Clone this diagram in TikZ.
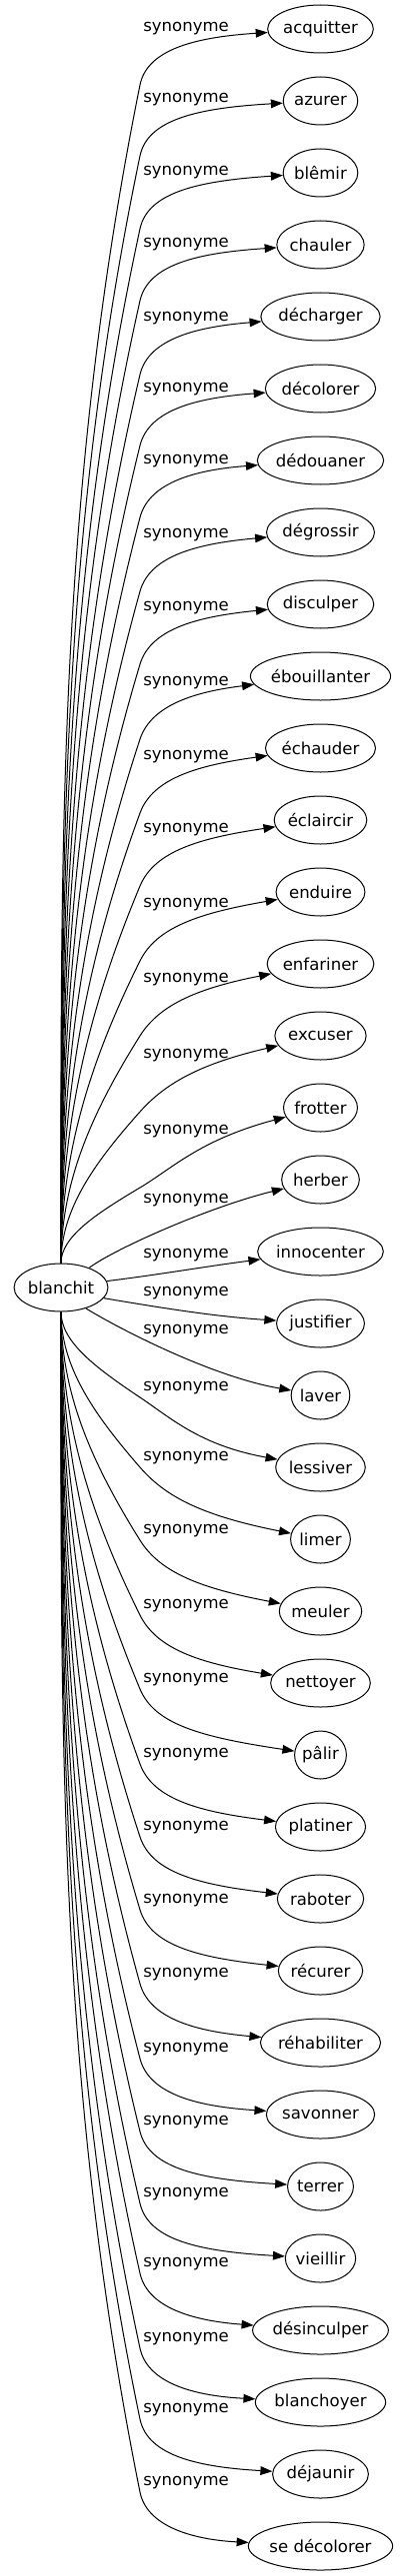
\documentclass[tikz,border=0pt]{standalone}
\usepackage{fontspec}
\setmainfont{DejaVu Sans}
\usetikzlibrary{arrows.meta,shapes.geometric,calc}
\newlength\twd
\newcommand\wfont{\fontsize{12.4}{14.9}\selectfont}
\begin{document}
\begin{tikzpicture}[x=0.75pt,y=-0.75pt,
  every node/.style={font=\wfont},
  word/.style={ellipse,draw,line width=0.75pt,inner xsep=0pt,inner ysep=0pt,minimum height=36pt},
  rel/.style={anchor=west,inner sep=0pt},
  link/.style={line width=0.75pt,-{Triangle[length=9pt,width=6.5pt]}}]
\useasboundingbox (0,0) rectangle (404,2579);
\settowidth\twd{\wfont blanchit}
\node[word,minimum width=1.2*\twd+24.75pt] (b) at (61,1289) {blanchit};
\foreach \i/\w/\yl in {0/acquitter/29,1/azurer/100,2/blêmir/173,3/chauler/245,4/décharger/319,5/décolorer/390,6/dédouaner/462,7/dégrossir/536,8/disculper/609,9/ébouillanter/684,10/échauder/758,11/éclaircir/831,12/enduire/906,13/enfariner/981,14/excuser/1057,15/frotter/1133,16/herber/1202,17/innocenter/1257,18/justifier/1295,19/laver/1333,20/lessiver/1390,21/limer/1460,22/meuler/1533,23/nettoyer/1608,24/pâlir/1682,25/platiner/1757,26/raboter/1830,27/récurer/1903,28/réhabiliter/1977,29/savonner/2052,30/terrer/2125,31/vieillir/2197,32/désinculper/2267,33/blanchoyer/2342,34/déjaunir/2413,35/se décolorer/2486}{
  \pgfmathsetmacro\eT{29+72*\i}
  \settowidth\twd{\wfont \w}
  \node[word,minimum width=1.2*\twd+24.75pt] (n\i) at (320.5,\eT) {\w};
  \node[rel] (l\i) at (143,\yl) {synonyme};
}
% upper edges
\foreach \i/\yl in {0/29,1/100,2/173,3/245,4/319,5/390,6/462,7/536,8/609,9/684,10/758,11/831,12/906,13/981,14/1057,15/1133}{
  \pgfmathsetmacro\eK{\yl+56}
  \pgfmathsetmacro\eH{1265-\eK}
  \pgfmathsetmacro\eD{0.1+120/\eH}
  \pgfmathsetmacro\eL{0.35*\eH}
  \pgfmathsetmacro\eN{sqrt(1+\eD*\eD)}
  \pgfmathsetmacro\cAy{1265-\eL}
  \pgfmathsetmacro\cBx{140-\eD*\eL}
  \pgfmathsetmacro\cBy{\eK+\eL}
  \pgfmathsetmacro\cCx{140+38*\eD/\eN}
  \pgfmathsetmacro\cCy{\eK-38/\eN}
  \pgfmathsetmacro\cDy{\eK-48}
  \draw[link] (b.north) .. controls (61,\cAy) and (\cBx,\cBy) .. (140,\eK)
     .. controls (\cCx,\cCy) and (200,\cDy) .. (n\i);
}
% lower edges
\foreach \i/\yl in {20/1390,21/1460,22/1533,23/1608,24/1682,25/1757,26/1830,27/1903,28/1977,29/2052,30/2125,31/2197,32/2267,33/2342,34/2413,35/2486}{
  \pgfmathsetmacro\eK{\yl+9}
  \pgfmathsetmacro\eH{\eK-1313}
  \pgfmathsetmacro\eD{0.1+120/\eH}
  \pgfmathsetmacro\eL{0.35*\eH}
  \pgfmathsetmacro\eN{sqrt(1+\eD*\eD)}
  \pgfmathsetmacro\cAy{1313+\eL}
  \pgfmathsetmacro\cBx{140-\eD*\eL}
  \pgfmathsetmacro\cBy{\eK-\eL}
  \pgfmathsetmacro\cCx{140+38*\eD/\eN}
  \pgfmathsetmacro\cCy{\eK+38/\eN}
  \pgfmathsetmacro\cDy{\eK+48}
  \draw[link] (b.south) .. controls (61,\cAy) and (\cBx,\cBy) .. (140,\eK)
     .. controls (\cCx,\cCy) and (200,\cDy) .. (n\i);
}
% middle edges
\draw[link] (b.35) .. controls (115,1250) and (210,1208) .. (n16);
\draw[link] (b.8) .. controls (160,1276) and (205,1268) .. (n17);
\draw[link] (b.-14) .. controls (165,1310) and (215,1318) .. (n18);
\draw[link] (b.-40) .. controls (115,1328) and (210,1378) .. (n19);
\end{tikzpicture}
\end{document}
